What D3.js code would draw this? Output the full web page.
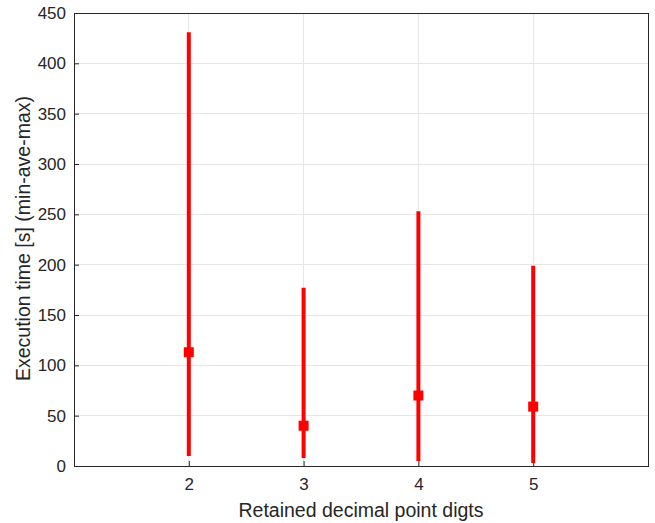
<!DOCTYPE html>
<html><head><meta charset="utf-8">
<script src="https://cdn.jsdelivr.net/npm/d3@7"></script>
<style>body{margin:0;background:#fff}svg{display:block}text{font-family:"Liberation Sans",Arial,sans-serif;fill:#262626}</style>
</head><body><svg id="c" width="655" height="523"></svg>
<script>
const digits = [2, 3, 4, 5];
const minVals = [10, 8, 5, 3];
const aveVals = [113, 40, 70, 59];
const maxVals = [431, 177, 253, 199];
const xTicks = [2, 3, 4, 5];
const yTicks = [0, 50, 100, 150, 200, 250, 300, 350, 400, 450];

const svg = d3.select("#c");
const L = 74, R = 648, T = 13, B = 466;
const x = d3.scaleLinear().domain([1, 6]).range([L, R]);
const y = d3.scaleLinear().domain([0, 450]).range([B, T]);

// grid
const g = svg.append("g");
g.selectAll(".gx").data(xTicks).enter().append("line")
  .attr("x1", d => x(d)).attr("x2", d => x(d)).attr("y1", T).attr("y2", B)
  .attr("stroke", "#e6e6e6").attr("stroke-width", 1).attr("shape-rendering", "crispEdges");
g.selectAll(".gy").data(yTicks).enter().append("line")
  .attr("x1", L).attr("x2", R).attr("y1", d => y(d)).attr("y2", d => y(d))
  .attr("stroke", "#e6e6e6").attr("stroke-width", 1).attr("shape-rendering", "crispEdges");

// data
const data = digits.map((d, i) => ({d, mn: minVals[i], av: aveVals[i], mx: maxVals[i]}));
svg.selectAll(".bar").data(data).enter().append("line")
  .attr("x1", d => x(d.d)).attr("x2", d => x(d.d))
  .attr("y1", d => y(d.mn)).attr("y2", d => y(d.mx))
  .attr("stroke", "#ff0000").attr("stroke-width", 4);
svg.selectAll(".mk").data(data).enter().append("rect")
  .attr("x", d => x(d.d) - 5).attr("y", d => y(d.av) - 5)
  .attr("width", 10).attr("height", 10).attr("fill", "#ff0000");

// axes
const xAxis = d3.axisBottom(x).tickValues(xTicks).tickSizeInner(-5).tickSizeOuter(0).tickPadding(12).tickFormat(d3.format("d"));
const yAxis = d3.axisLeft(y).tickValues(yTicks).tickSizeInner(-5).tickSizeOuter(0).tickPadding(8).tickFormat(d3.format("d"));
const gx = svg.append("g").attr("transform", `translate(0,${B})`).call(xAxis);
const gy = svg.append("g").attr("transform", `translate(${L},0)`).call(yAxis);
[gx, gy].forEach(a => {
  a.select(".domain").remove();
  a.selectAll(".tick line").attr("stroke", "#262626");
  a.selectAll(".tick text").attr("font-size", 17).attr("fill", "#262626").style("font-family", '"Liberation Sans",Arial,sans-serif');
});
// box
svg.append("rect").attr("x", L).attr("y", T).attr("width", R - L).attr("height", B - T)
  .attr("fill", "none").attr("stroke", "#262626").attr("stroke-width", 1).attr("shape-rendering", "crispEdges");

svg.append("text").attr("x", 361).attr("y", 517).attr("text-anchor", "middle")
  .attr("font-size", 19.5).text("Retained decimal point digts");
svg.append("text").attr("transform", `translate(30,${(T + B) / 2 - 1}) rotate(-90)`).attr("text-anchor", "middle")
  .attr("font-size", 19.5).text("Execution time [s] (min-ave-max)");
</script></body></html>
